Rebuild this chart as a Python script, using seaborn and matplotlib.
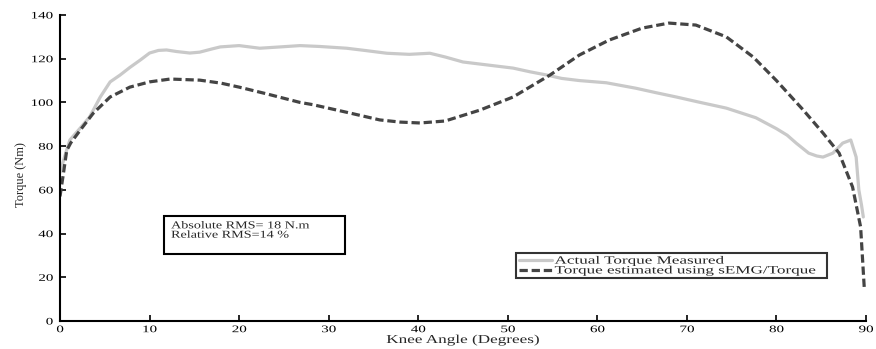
import matplotlib
matplotlib.use("Agg")
import matplotlib.pyplot as plt
import seaborn as sns
import pandas as pd
from matplotlib.patches import Rectangle
from matplotlib.patheffects import AbstractPathEffect
from matplotlib.transforms import Affine2D

# ---- data ----
angle_actual = [0, 0.5, 1.1, 2.2, 3.3, 4.5, 5.6, 6.7, 7.8, 9, 10, 11, 11.9, 13, 14.5,
                15.6, 17, 17.9, 20, 22.3, 24.6, 26.8, 29, 32, 34, 36.5, 39, 41.3, 43,
                45, 48, 50.6, 52.5, 54.4, 56, 58, 61, 64.3, 66.5, 68.8, 71.5, 74.4,
                77.7, 80, 81.2, 82.2, 83.6, 84.5, 85.2, 86.3, 87.4, 88.3, 88.9, 89.2,
                89.5, 89.7]
torque_actual = [68, 75, 82.8, 88, 93.3, 102.5, 109.4, 112.5, 116, 119.5, 122.6, 123.8,
                 124, 123.3, 122.6, 123, 124.5, 125.4, 126, 124.8, 125.4, 126, 125.6,
                 124.8, 123.8, 122.5, 122, 122.5, 120.8, 118.5, 117, 115.7, 114, 112.5,
                 111, 110, 109, 106.5, 104.5, 102.5, 100, 97.4, 93, 88, 85, 81.4, 76.8,
                 75.5, 75, 76.8, 81.4, 82.8, 75, 60, 53, 47.6]

angle_est = [0, 0.4, 0.75, 1.2, 2.2, 3.7, 5.6, 7.8, 10, 12.3, 15.6, 18, 20, 23, 26.8,
             28.2, 32, 35.7, 38, 40.2, 43, 46.9, 50.6, 54.7, 58, 61.3, 65, 68, 71,
             74.4, 77.4, 80, 83, 85.2, 87, 88.5, 89.4, 89.8]
torque_est = [57, 68, 78, 81.5, 87, 95, 102.5, 107, 109.4, 110.7, 110.2, 108.8, 107,
              104, 100, 99, 95.5, 92, 91, 90.6, 91.5, 96.5, 102.5, 112.5, 121.7, 128.5,
              134, 136.3, 135.4, 130, 120.8, 110, 96.5, 86, 76.8, 61.3, 43, 15.6]

series_names = ["Actual Torque Measured", "Torque estimated using sEMG/Torque"]
x_ticks = [0, 10, 20, 30, 40, 50, 60, 70, 80, 90]
y_ticks = [0, 20, 40, 60, 80, 100, 120, 140]
rms_lines = ["Absolute RMS= 18 N.m", "Relative RMS=14 %"]


class Stretch(AbstractPathEffect):
    """Draw text widened horizontally (the reference image is squashed vertically)."""

    def __init__(self, sx, anchor="left"):
        super().__init__()
        self.sx = sx
        self.anchor = anchor

    def draw_path(self, renderer, gc, tpath, affine, rgbFace=None):
        v = tpath.vertices
        if len(v) == 0:
            return
        if self.anchor == "center":
            x0 = (v[:, 0].min() + v[:, 0].max()) / 2.0
        elif self.anchor == "right":
            x0 = v[:, 0].max()
        else:
            x0 = 0.0
        aff = Affine2D().translate(-x0, 0).scale(self.sx, 1).translate(x0, 0) + affine
        renderer.draw_path(gc, tpath, aff, rgbFace)


df_actual = pd.DataFrame({"angle": angle_actual, "torque": torque_actual})
df_est = pd.DataFrame({"angle": angle_est, "torque": torque_est})

sns.set_style("ticks")
plt.rcParams["font.family"] = ["Liberation Serif", "DejaVu Serif"]

fig = plt.figure(figsize=(8.76, 3.49), dpi=100)
ax = fig.add_axes([60 / 876, 28 / 349, 806 / 876, 306 / 349])

sns.lineplot(data=df_actual, x="angle", y="torque", ax=ax, color="#c9c9c9",
             linewidth=2.3, label=series_names[0], estimator=None)
sns.lineplot(data=df_est, x="angle", y="torque", ax=ax, color="#444444",
             linewidth=2.3, label=series_names[1], estimator=None)
ax.lines[1].set_linestyle((0, (2.6, 1.2)))

ax.set_xlim(0, 90)
ax.set_ylim(0, 140)
ax.set_xticks(x_ticks)
ax.set_yticks(y_ticks)
ax.tick_params(direction="in", length=4, width=1.2, colors="black", labelsize=7.2)
ax.tick_params(axis="x", pad=3)
ax.tick_params(axis="y", pad=5)
for s in ["top", "right"]:
    ax.spines[s].set_visible(False)
for s in ["left", "bottom"]:
    ax.spines[s].set_linewidth(1.5)
    ax.spines[s].set_color("black")

for t in ax.get_xticklabels():
    t.set_path_effects([Stretch(1.5, "center")])
for t in ax.get_yticklabels():
    t.set_path_effects([Stretch(1.5, "right")])

ax.set_xlabel("Knee Angle (Degrees)", fontsize=8.7)
ax.xaxis.set_label_coords(0.5, -(334 - 321) / 306)
ax.xaxis.label.set_path_effects([Stretch(1.42, "center")])
ax.set_ylabel("Torque (Nm)", fontsize=9)
ax.yaxis.set_label_coords(-(60 - 27) / 806, (321 - 175) / 306)

leg = ax.legend(loc="upper left", bbox_to_anchor=(0.566, 0.222, 0.386, 0.0),
                mode="expand", fontsize=8, handlelength=3.0, handletextpad=0.2,
                borderpad=0.25, labelspacing=0.0, frameon=True, fancybox=False,
                borderaxespad=0)
leg.get_frame().set_edgecolor("black")
leg.get_frame().set_linewidth(1.5)
for t in leg.get_texts():
    t.set_path_effects([Stretch(1.54, "left")])

ax.add_patch(Rectangle((11.6, 30.7), 20.2, 17.3, transform=ax.transData,
                       facecolor="white", edgecolor="black", linewidth=1.5,
                       zorder=3))
t = ax.text(12.4, 45.6, "\n".join(rms_lines), fontsize=7.6, va="top", ha="left",
            zorder=4, linespacing=1.05)
t.set_path_effects([Stretch(1.34, "left")])

fig.savefig("out.png", dpi=100)
